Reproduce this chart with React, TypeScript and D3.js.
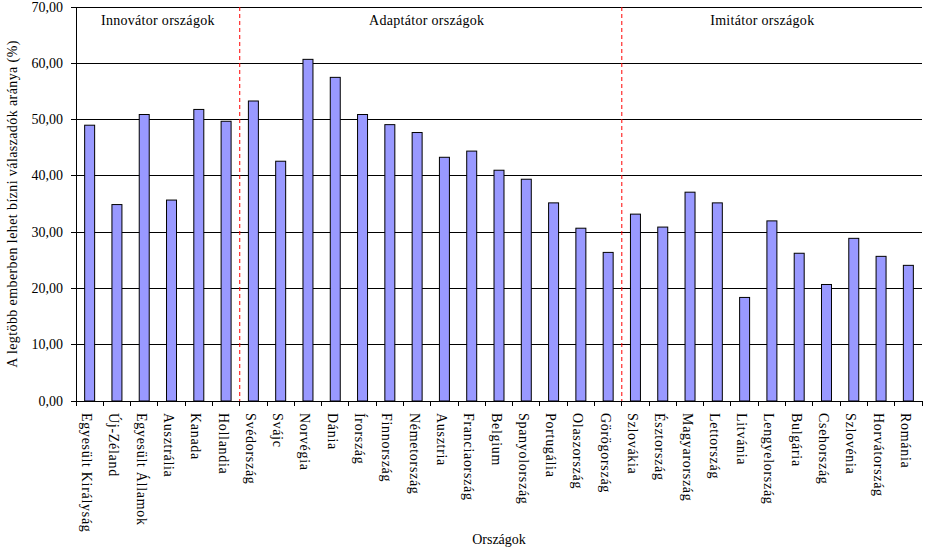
import React from "react";
import * as d3 from "d3";

const categories = [
  "Egyesült Királyság", "Új-Zéland", "Egyesült Államok", "Ausztrália", "Kanada", "Hollandia",
  "Svédország", "Svájc", "Norvégia", "Dánia", "Írország", "Finnország", "Németország", "Ausztria",
  "Franciaország", "Belgium", "Spanyolország", "Portugália", "Olaszország", "Görögország",
  "Szlovákia", "Észtország", "Magyarország", "Lettország", "Litvánia", "Lengyelország",
  "Bulgária", "Csehország", "Szlovénia", "Horvátország", "Románia",
];
const values = [
  49.0, 34.9, 50.9, 35.7, 51.8, 49.7,
  53.3, 42.6, 60.7, 57.5, 50.9, 49.1, 47.7, 43.3,
  44.4, 41.0, 39.4, 35.2, 30.7, 26.4,
  33.2, 30.9, 37.1, 35.2, 18.4, 32.0,
  26.25, 20.7, 28.9, 25.7, 24.1,
];
const yTicks = [0, 10, 20, 30, 40, 50, 60, 70];
const groupLabels = ["Innovátor országok", "Adaptátor országok", "Imitátor országok"];
const groupLabelPos = [3, 12.85, 25.15];
const dividerIdx = [6, 20];
const yTitle = "A legtöbb emberben lehet bízni válaszadók aránya (%)";
const xTitle = "Országok";

const W = 928, H = 551;
const L = 76, R = 922, T = 7, B = 401;
const FONT = "Liberation Serif, Times New Roman, serif";

export default function App() {
  const x = d3.scaleBand<string>().domain(categories).range([L, R]).paddingInner(0.634).paddingOuter(0.317);
  const step = (R - L) / categories.length;
  const y = d3.scaleLinear().domain([0, 70]).range([B, T]);
  const fmt = (v: number) => v.toFixed(2).replace(".", ",");
  return (
    <svg width={W} height={H} style={{ position: "absolute", left: 0, top: 0, background: "#fff", fontFamily: FONT }}>
      {yTicks.filter(t => t > 0).map(t => (
        <line key={"g" + t} x1={L} x2={R} y1={y(t)} y2={y(t)} stroke="#000" strokeWidth={1} shapeRendering="crispEdges" />
      ))}
      {yTicks.map(t => (
        <g key={"t" + t}>
          <line x1={L - 5} x2={L} y1={y(t)} y2={y(t)} stroke="#000" shapeRendering="crispEdges" />
          <text x={63} y={y(t)} textAnchor="end" dominantBaseline="central" fontSize={14}>{fmt(t)}</text>
        </g>
      ))}
      {dividerIdx.map(i => (
        <line key={"d" + i} x1={L + i * step} x2={L + i * step} y1={T} y2={B} stroke="#ff0000" strokeDasharray="4,3" />
      ))}
      {categories.map((c, i) => (
        <rect key={c} x={x(c)} y={y(values[i])} width={x.bandwidth()} height={B - y(values[i])} fill="#9999ff" stroke="#000" strokeWidth={1} />
      ))}
      <line x1={L} x2={L} y1={T} y2={B} stroke="#000" shapeRendering="crispEdges" />
      <line x1={L} x2={R} y1={B} y2={B} stroke="#000" shapeRendering="crispEdges" />
      {d3.range(categories.length + 1).map(i => (
        <line key={"xt" + i} x1={L + i * step} x2={L + i * step} y1={B} y2={B + 5} stroke="#000" shapeRendering="crispEdges" />
      ))}
      {categories.map(c => {
        const cx = (x(c) as number) + x.bandwidth() / 2 - 3;
        return (
          <text key={"l" + c} transform={`translate(${cx},413) rotate(90)`} dominantBaseline="central" fontSize={14} letterSpacing={0.7}>{c}</text>
        );
      })}
      {groupLabels.map((g, i) => (
        <text key={g} x={L + groupLabelPos[i] * step} y={25} textAnchor="middle" fontSize={14} letterSpacing={0.3}>{g}</text>
      ))}
      <text transform={`translate(12,${(T + B) / 2}) rotate(-90)`} textAnchor="middle" dominantBaseline="central" fontSize={14} letterSpacing={0.4}>{yTitle}</text>
      <text x={(L + R) / 2} y={544} textAnchor="middle" fontSize={14}>{xTitle}</text>
    </svg>
  );
}
